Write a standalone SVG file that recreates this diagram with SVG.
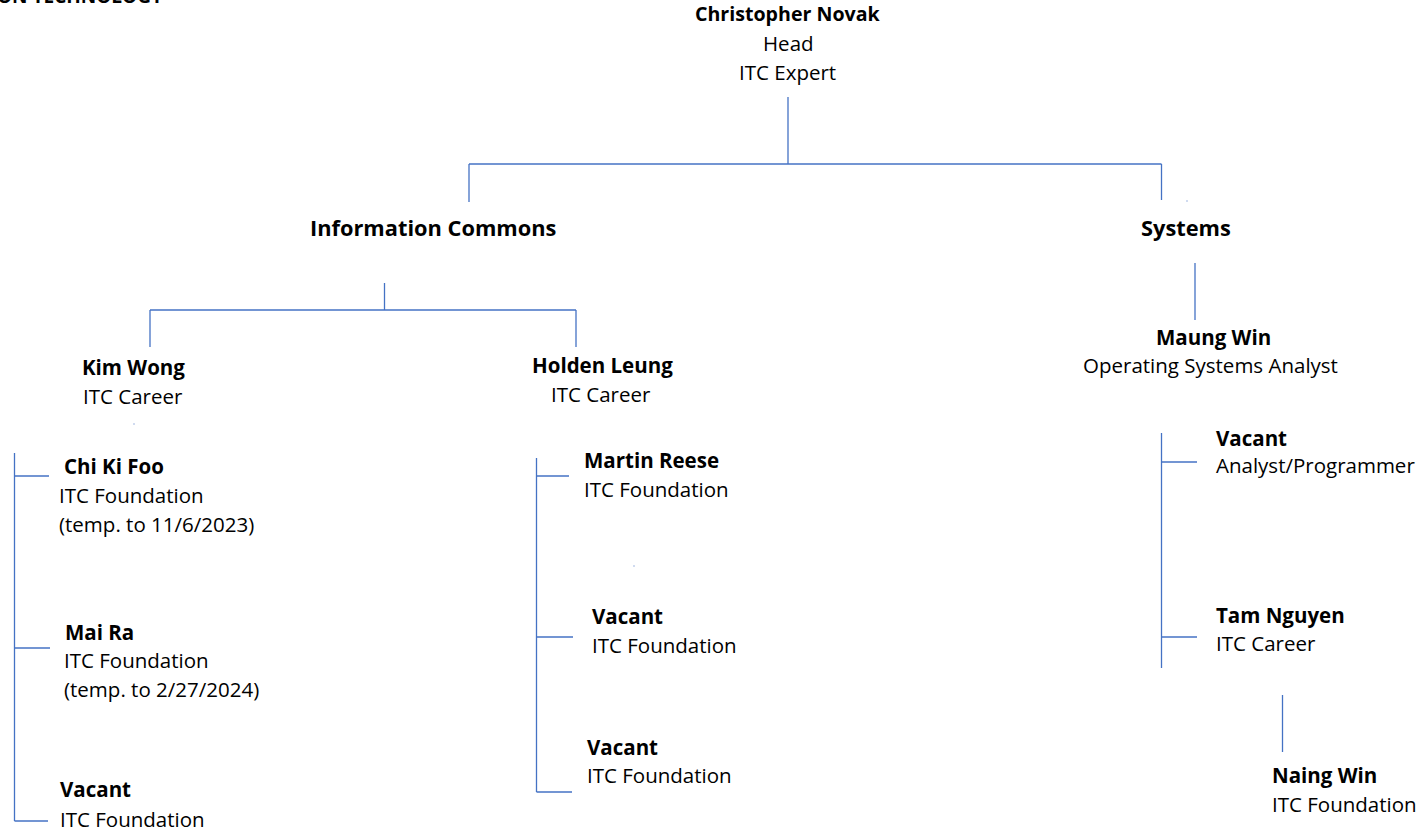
<svg xmlns="http://www.w3.org/2000/svg" width="1424" height="832" viewBox="0 0 1424 832">
<style>
text{font-family:"Open Sans","Noto Sans","Liberation Sans",sans-serif;font-size:20.5px;fill:#000}
.b{font-weight:bold}
.h{font-weight:bold;font-size:21.8px}
.c line{stroke:#4472C4;stroke-width:1.3;fill:none}
.dot{fill:#4472C4}
</style>
<rect width="1424" height="832" fill="#fff"/>
<text class="b" x="-3" y="3" style="font-size:19px">ON TECHNOLOGY</text>
<g class="c" id="connectors">
<line x1="788" y1="97" x2="788" y2="164"/>
<line x1="469" y1="164" x2="1161.5" y2="164"/>
<line x1="469" y1="164" x2="469" y2="202"/>
<line x1="1161.5" y1="164" x2="1161.5" y2="200"/>
<line x1="384.5" y1="283" x2="384.5" y2="310"/>
<line x1="150" y1="310" x2="576" y2="310"/>
<line x1="150" y1="310" x2="150" y2="347"/>
<line x1="576" y1="310" x2="576" y2="347"/>
<line x1="1195" y1="263" x2="1195" y2="320"/>
<line x1="14.5" y1="453" x2="14.5" y2="821"/>
<line x1="14.5" y1="476" x2="49" y2="476"/>
<line x1="14.5" y1="648" x2="50" y2="648"/>
<line x1="14.5" y1="821" x2="48" y2="821"/>
<line x1="536.5" y1="458" x2="536.5" y2="792"/>
<line x1="536.5" y1="476" x2="569" y2="476"/>
<line x1="536.5" y1="637" x2="573" y2="637"/>
<line x1="536.5" y1="792" x2="572" y2="792"/>
<line x1="1161.5" y1="433" x2="1161.5" y2="668"/>
<line x1="1161.5" y1="462" x2="1197" y2="462"/>
<line x1="1161.5" y1="637" x2="1197" y2="637"/>
<line x1="1282.5" y1="695" x2="1282.5" y2="752"/>
<rect class="dot" x="1186.5" y="200.5" width="1" height="1"/>
<rect class="dot" x="133.5" y="423.5" width="1" height="1"/>
<rect class="dot" x="633.5" y="565.5" width="1" height="1"/>
</g>
<g id="head"><text class="b" x="695" y="21" style="font-size:19.6px">Christopher Novak</text><text x="763" y="51">Head</text><text x="739" y="80">ITC Expert</text></g>
<g id="info-commons"><text class="h" x="310" y="236">Information Commons</text></g>
<g id="systems"><text class="h" x="1141" y="236">Systems</text></g>
<g id="kim-wong"><text class="b" x="82" y="375">Kim Wong</text><text x="83" y="404">ITC Career</text></g>
<g id="holden-leung"><text class="b" x="532" y="373">Holden Leung</text><text x="551" y="402">ITC Career</text></g>
<g id="maung-win"><text class="b" x="1156" y="345">Maung Win</text><text x="1083" y="373">Operating Systems Analyst</text></g>
<g id="chi-ki-foo"><text class="b" x="64" y="474">Chi Ki Foo</text><text x="59" y="503">ITC Foundation</text><text x="59" y="532">(temp. to 11/6/2023)</text></g>
<g id="mai-ra"><text class="b" x="65" y="640">Mai Ra</text><text x="64" y="668">ITC Foundation</text><text x="64" y="697">(temp. to 2/27/2024)</text></g>
<g id="vacant-1"><text class="b" x="60" y="797">Vacant</text><text x="60" y="827">ITC Foundation</text></g>
<g id="martin-reese"><text class="b" x="584" y="468">Martin Reese</text><text x="584" y="497">ITC Foundation</text></g>
<g id="vacant-2"><text class="b" x="592" y="624">Vacant</text><text x="592" y="653">ITC Foundation</text></g>
<g id="vacant-3"><text class="b" x="587" y="755">Vacant</text><text x="587" y="783">ITC Foundation</text></g>
<g id="vacant-4"><text class="b" x="1216" y="446">Vacant</text><text x="1216" y="473">Analyst/Programmer</text></g>
<g id="tam-nguyen"><text class="b" x="1216" y="623">Tam Nguyen</text><text x="1216" y="651">ITC Career</text></g>
<g id="naing-win"><text class="b" x="1272" y="783">Naing Win</text><text x="1272" y="812">ITC Foundation</text></g>
</svg>
